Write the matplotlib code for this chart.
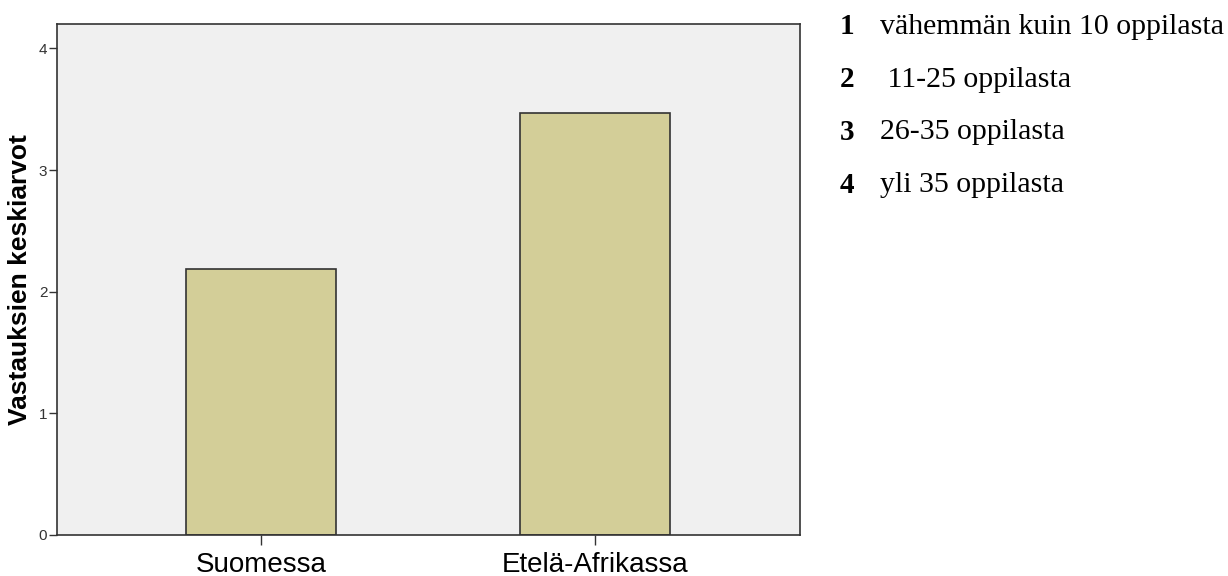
import matplotlib.pyplot as plt

# mean answers per country
countries = ['Suomessa', 'Etelä-Afrikassa']
means = [2.19, 3.47]
codes = ['1', '2', '3', '4']
code_labels = ['vähemmän kuin 10 oppilasta', ' 11-25 oppilasta',
               '26-35 oppilasta', 'yli 35 oppilasta']

plt.rcParams['font.family'] = ['Liberation Sans', 'DejaVu Sans']

fig = plt.figure(figsize=(12.28, 5.76), dpi=100)
ax = fig.add_axes([57 / 1228, 41 / 576, 743 / 1228, 511 / 576])
ax.set_facecolor('#f0f0f0')

x = range(len(countries))
ax.bar(x, means, width=0.45, color='#d3ce98', edgecolor='#333333', linewidth=1.2)

ax.set_xlim(-0.612, 1.616)
ax.set_ylim(0, 4.2)
ax.set_yticks([0, 1, 2, 3, 4])
ax.set_xticks(list(x))
ax.set_xticklabels(countries, fontsize=20)
ax.tick_params(axis='y', labelsize=11, length=6, width=1, pad=1,
               color='#333333', labelcolor='#333333')
ax.tick_params(axis='x', length=7, width=1, pad=5, color='#333333')
for s in ax.spines.values():
    s.set_color('#333333')
    s.set_linewidth(1.2)

ax.set_ylabel('Vastauksien keskiarvot', fontsize=19, fontweight='bold', labelpad=5)

# code key on the right
for i, (c, lab) in enumerate(zip(codes, code_labels)):
    y = 1 - (27 + 52.7 * i) / 576
    fig.text(840 / 1228, y, c, fontsize=21, fontweight='bold',
             family='Liberation Serif', va='center')
    fig.text(880 / 1228, y, lab, fontsize=21.5,
             family='Liberation Serif', va='center')

fig.savefig('out.png', dpi=100)
